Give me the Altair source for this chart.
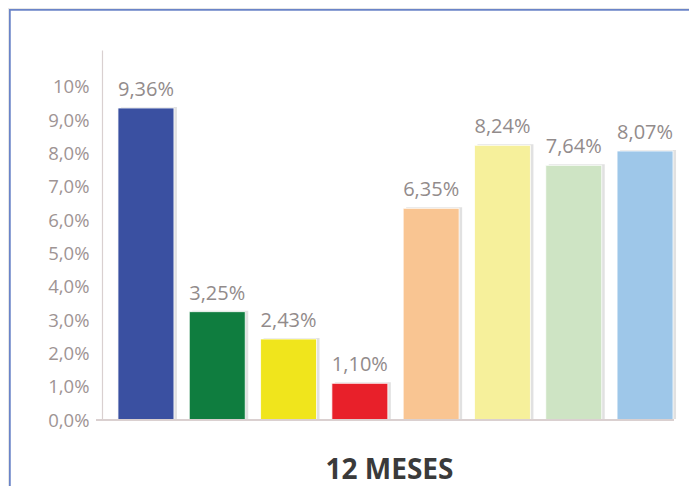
import altair as alt
import pandas as pd

categories = ["A", "B", "C", "D", "E", "F", "G", "H"]
values = [9.36, 3.25, 2.43, 1.10, 6.35, 8.24, 7.64, 8.07]
labels = ["9,36%", "3,25%", "2,43%", "1,10%", "6,35%", "8,24%", "7,64%", "8,07%"]
colors = ["#3a50a1", "#0f7d3f", "#f0e51c", "#e8202a", "#f9c592", "#f6f09b", "#cee4c4", "#9ec7e9"]
tick_values = [0, 1, 2, 3, 4, 5, 6, 7, 8, 9, 10]
tick_labels = ["0,0%", "1,0%", "2,0%", "3,0%", "4,0%", "5,0%", "6,0%", "7,0%", "8,0%", "9,0%", "10%"]
title_text = "12 MESES"

df = pd.DataFrame({"cat": categories, "val": values, "label": labels, "color": colors})

label_expr = "{" + ",".join(f"'{v}':'{l}'" for v, l in zip(tick_values, tick_labels)) + "}[datum.value]"

FONT = "Open Sans"
W, H = 587, 370

xscale = alt.Scale(domain=categories, paddingInner=0.215, paddingOuter=0.224)
yscale = alt.Scale(domain=[0, 11.1], nice=False)

xaxis = alt.Axis(labels=False, ticks=False, domain=False, title=title_text,
                 titleFont=FONT, titleFontSize=28, titleFontWeight="bold",
                 titleColor="#3a3a3a", titleX=287, titleY=58,
                 titleAlign="center", titleBaseline="alphabetic", zindex=1)
yaxis = alt.Axis(values=tick_values, labelExpr=label_expr, ticks=False, grid=False,
                 labelOverlap=False, tickCount=11,
                 domainColor="#d9d0d0", domainWidth=1.2, labelFont=FONT,
                 labelFontSize=18.5, labelColor="#9e9494", labelPadding=13,
                 title=None, zindex=1)

X = alt.X("cat:N", scale=xscale, sort=categories, axis=xaxis)
Y = alt.Y("val:Q", scale=yscale, axis=yaxis)

frame = alt.Chart(df).mark_rect(fill="white", stroke="#6b84c8", strokeWidth=1.5).encode(
    x=alt.value(-92), x2=alt.value(W + 40), y=alt.value(-40), y2=alt.value(H + 120)
)

base = alt.Chart(df)

shadow = base.mark_bar(color="#c8c8c8", opacity=0.55, xOffset=3, yOffset=-1).encode(x=X, y=Y)

bars = base.mark_bar(stroke="white", strokeWidth=0.8).encode(
    x=X, y=Y,
    color=alt.Color("color:N", scale=None, legend=None),
)

baseline = base.mark_rule(color="#d9d0d0", strokeWidth=1.2).encode(
    x=alt.value(-6), x2=alt.value(572), y=alt.datum(0)
)

text = base.mark_text(dy=-18, font=FONT, fontSize=20, color="#928b8b").encode(
    x=X, y=Y, text="label:N",
)

chart = alt.layer(frame, shadow, bars, baseline, text).properties(
    width=W, height=H,
    autosize=alt.AutoSizeParams(type="none"),
    padding={"left": 94, "top": 42, "right": 0, "bottom": 66},
    background="#e6e6e6",
).configure_view(stroke=None)

chart.save("out.html", embed_options={"renderer": "svg", "actions": False})
